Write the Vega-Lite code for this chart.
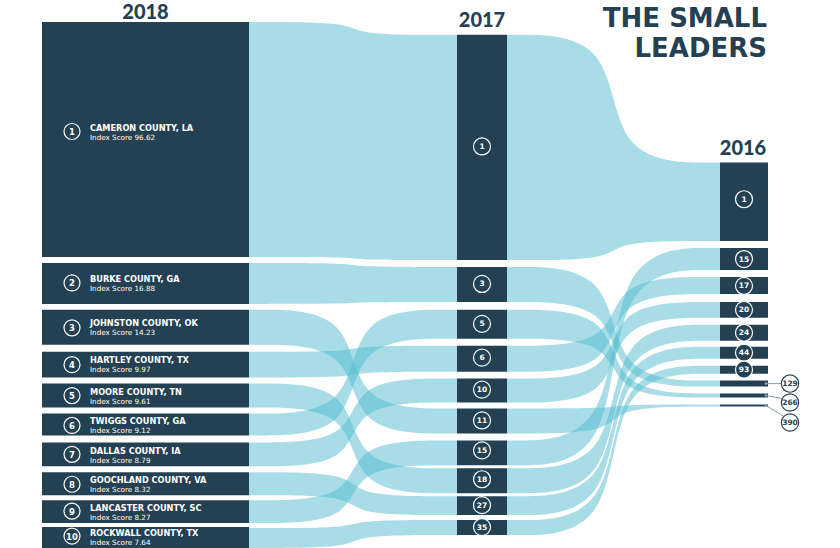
{
  "$schema": "https://vega.github.io/schema/vega-lite/v6.json",
  "width": 840,
  "height": 548,
  "autosize": {"type": "fit", "contains": "padding"},
  "padding": 0,
  "background": "white",
  "view": {"stroke": null},
  "config": {"font": "Lato"},
  "datasets": {
    "flows": [
      {"f":"a1","x":249,"t":22,"b":258},{"f":"a1","x":352.5,"t":22,"b":258},{"f":"a1","x":353.5,"t":35,"b":261},{"f":"a1","x":457,"t":35,"b":261},
      {"f":"a2","x":249,"t":264,"b":305},{"f":"a2","x":352.5,"t":264,"b":305},{"f":"a2","x":353.5,"t":268,"b":303},{"f":"a2","x":457,"t":268,"b":303},
      {"f":"a3","x":249,"t":311,"b":346},{"f":"a3","x":352.5,"t":311,"b":346},{"f":"a3","x":353.5,"t":410,"b":435},{"f":"a3","x":457,"t":410,"b":435},
      {"f":"a4","x":249,"t":353,"b":379},{"f":"a4","x":352.5,"t":353,"b":379},{"f":"a4","x":353.5,"t":347,"b":373},{"f":"a4","x":457,"t":347,"b":373},
      {"f":"a5","x":249,"t":385,"b":409},{"f":"a5","x":352.5,"t":385,"b":409},{"f":"a5","x":353.5,"t":470,"b":495},{"f":"a5","x":457,"t":470,"b":495},
      {"f":"a6","x":249,"t":415,"b":437},{"f":"a6","x":352.5,"t":415,"b":437},{"f":"a6","x":353.5,"t":311,"b":340},{"f":"a6","x":457,"t":311,"b":340},
      {"f":"a7","x":249,"t":444,"b":468},{"f":"a7","x":352.5,"t":444,"b":468},{"f":"a7","x":353.5,"t":380,"b":404},{"f":"a7","x":457,"t":380,"b":404},
      {"f":"a8","x":249,"t":474,"b":497},{"f":"a8","x":352.5,"t":474,"b":497},{"f":"a8","x":353.5,"t":498,"b":517},{"f":"a8","x":457,"t":498,"b":517},
      {"f":"a9","x":249,"t":502,"b":525},{"f":"a9","x":352.5,"t":502,"b":525},{"f":"a9","x":353.5,"t":442,"b":467},{"f":"a9","x":457,"t":442,"b":467},
      {"f":"a10","x":249,"t":530,"b":550},{"f":"a10","x":352.5,"t":530,"b":550},{"f":"a10","x":353.5,"t":522,"b":537},{"f":"a10","x":457,"t":522,"b":537},
      {"f":"b1","x":507,"t":35,"b":261},{"f":"b1","x":613,"t":35,"b":261},{"f":"b1","x":614,"t":163,"b":242},{"f":"b1","x":720,"t":163,"b":242},
      {"f":"b2","x":507,"t":268,"b":303},{"f":"b2","x":613,"t":268,"b":303},{"f":"b2","x":614,"t":382,"b":388},{"f":"b2","x":720,"t":382,"b":388},
      {"f":"b3","x":507,"t":311,"b":340},{"f":"b3","x":613,"t":311,"b":340},{"f":"b3","x":614,"t":395,"b":399},{"f":"b3","x":720,"t":395,"b":399},
      {"f":"b4","x":507,"t":347,"b":373},{"f":"b4","x":613,"t":347,"b":373},{"f":"b4","x":614,"t":278,"b":295},{"f":"b4","x":720,"t":278,"b":295},
      {"f":"b5","x":507,"t":380,"b":404},{"f":"b5","x":613,"t":380,"b":404},{"f":"b5","x":614,"t":303,"b":319},{"f":"b5","x":720,"t":303,"b":319},
      {"f":"b6","x":507,"t":410,"b":435},{"f":"b6","x":613,"t":410,"b":435},{"f":"b6","x":614,"t":406,"b":408},{"f":"b6","x":720,"t":406,"b":408},
      {"f":"b7","x":507,"t":442,"b":467},{"f":"b7","x":613,"t":442,"b":467},{"f":"b7","x":614,"t":249,"b":271},{"f":"b7","x":720,"t":249,"b":271},
      {"f":"b8","x":507,"t":470,"b":495},{"f":"b8","x":613,"t":470,"b":495},{"f":"b8","x":614,"t":326,"b":342},{"f":"b8","x":720,"t":326,"b":342},
      {"f":"b9","x":507,"t":498,"b":517},{"f":"b9","x":613,"t":498,"b":517},{"f":"b9","x":614,"t":348,"b":360},{"f":"b9","x":720,"t":348,"b":360},
      {"f":"b10","x":507,"t":522,"b":537},{"f":"b10","x":613,"t":522,"b":537},{"f":"b10","x":614,"t":367,"b":375},{"f":"b10","x":720,"t":367,"b":375}
    ],
    "bars": [
      {"year":"2018","rank":"1","x0":42,"x1":249,"t":22,"b":258},
      {"year":"2018","rank":"2","x0":42,"x1":249,"t":264,"b":305},
      {"year":"2018","rank":"3","x0":42,"x1":249,"t":311,"b":346},
      {"year":"2018","rank":"4","x0":42,"x1":249,"t":353,"b":379},
      {"year":"2018","rank":"5","x0":42,"x1":249,"t":385,"b":409},
      {"year":"2018","rank":"6","x0":42,"x1":249,"t":415,"b":437},
      {"year":"2018","rank":"7","x0":42,"x1":249,"t":444,"b":468},
      {"year":"2018","rank":"8","x0":42,"x1":249,"t":474,"b":497},
      {"year":"2018","rank":"9","x0":42,"x1":249,"t":502,"b":525},
      {"year":"2018","rank":"10","x0":42,"x1":249,"t":529,"b":550},
      {"year":"2017","rank":"1","x0":457,"x1":507,"t":35,"b":261},
      {"year":"2017","rank":"3","x0":457,"x1":507,"t":268,"b":303},
      {"year":"2017","rank":"5","x0":457,"x1":507,"t":311,"b":340},
      {"year":"2017","rank":"6","x0":457,"x1":507,"t":347,"b":373},
      {"year":"2017","rank":"10","x0":457,"x1":507,"t":380,"b":404},
      {"year":"2017","rank":"11","x0":457,"x1":507,"t":410,"b":435},
      {"year":"2017","rank":"15","x0":457,"x1":507,"t":442,"b":467},
      {"year":"2017","rank":"18","x0":457,"x1":507,"t":470,"b":495},
      {"year":"2017","rank":"27","x0":457,"x1":507,"t":498,"b":517},
      {"year":"2017","rank":"35","x0":457,"x1":507,"t":522,"b":537},
      {"year":"2016","rank":"1","x0":720,"x1":768,"t":163,"b":242},
      {"year":"2016","rank":"15","x0":720,"x1":768,"t":249,"b":271},
      {"year":"2016","rank":"17","x0":720,"x1":768,"t":278,"b":295},
      {"year":"2016","rank":"20","x0":720,"x1":768,"t":303,"b":319},
      {"year":"2016","rank":"24","x0":720,"x1":768,"t":326,"b":342},
      {"year":"2016","rank":"44","x0":720,"x1":768,"t":348,"b":360},
      {"year":"2016","rank":"93","x0":720,"x1":768,"t":367,"b":375},
      {"year":"2016","rank":"129","x0":720,"x1":768,"t":382,"b":388},
      {"year":"2016","rank":"266","x0":720,"x1":768,"t":395,"b":399},
      {"year":"2016","rank":"390","x0":720,"x1":768,"t":406,"b":408}
    ],
    "badges": [
      {"kind":"a","rank":"1","cx":72,"cy":132},
      {"kind":"a","rank":"2","cx":72,"cy":284},
      {"kind":"a","rank":"3","cx":72,"cy":329},
      {"kind":"a","rank":"4","cx":72,"cy":366},
      {"kind":"a","rank":"5","cx":72,"cy":397},
      {"kind":"a","rank":"6","cx":72,"cy":427},
      {"kind":"a","rank":"7","cx":72,"cy":456},
      {"kind":"a","rank":"8","cx":72,"cy":486},
      {"kind":"a","rank":"9","cx":72,"cy":513},
      {"kind":"a","rank":"10","cx":72,"cy":538},
      {"kind":"b","rank":"1","cx":482,"cy":147},
      {"kind":"b","rank":"3","cx":482,"cy":285},
      {"kind":"b","rank":"5","cx":482,"cy":325},
      {"kind":"b","rank":"6","cx":482,"cy":359},
      {"kind":"b","rank":"10","cx":482,"cy":391},
      {"kind":"b","rank":"11","cx":482,"cy":422},
      {"kind":"b","rank":"15","cx":482,"cy":452},
      {"kind":"b","rank":"18","cx":482,"cy":481},
      {"kind":"b","rank":"27","cx":482,"cy":507},
      {"kind":"b","rank":"35","cx":482,"cy":529},
      {"kind":"b","rank":"1","cx":744,"cy":200},
      {"kind":"b","rank":"15","cx":744,"cy":260},
      {"kind":"b","rank":"17","cx":744,"cy":287},
      {"kind":"b","rank":"20","cx":744,"cy":311},
      {"kind":"b","rank":"24","cx":744,"cy":334},
      {"kind":"b","rank":"44","cx":744,"cy":354},
      {"kind":"b","rank":"93","cx":744,"cy":371},
      {"kind":"c","rank":"129","cx":790,"cy":385},
      {"kind":"c","rank":"266","cx":790,"cy":404},
      {"kind":"c","rank":"390","cx":790,"cy":424}
    ],
    "leaders": [
      {"rank":"129","x0":766,"y0":385,"x1":781,"y1":385},
      {"rank":"266","x0":766,"y0":397,"x1":782,"y1":400},
      {"rank":"390","x0":766,"y0":407,"x1":784,"y1":418}
    ],
    "counties": [
      {"name":"CAMERON COUNTY, LA","score":"Index Score 96.62","x":90,"m":132},
      {"name":"BURKE COUNTY, GA","score":"Index Score 16.88","x":90,"m":284},
      {"name":"JOHNSTON COUNTY, OK","score":"Index Score 14.23","x":90,"m":328},
      {"name":"HARTLEY COUNTY, TX","score":"Index Score 9.97","x":90,"m":365},
      {"name":"MOORE COUNTY, TN","score":"Index Score 9.61","x":90,"m":397},
      {"name":"TWIGGS COUNTY, GA","score":"Index Score 9.12","x":90,"m":426},
      {"name":"DALLAS COUNTY, IA","score":"Index Score 8.79","x":90,"m":456},
      {"name":"GOOCHLAND COUNTY, VA","score":"Index Score 8.32","x":90,"m":485},
      {"name":"LANCASTER COUNTY, SC","score":"Index Score 8.27","x":90,"m":513},
      {"name":"ROCKWALL COUNTY, TX","score":"Index Score 7.64","x":90,"m":538}
    ],
    "years": [
      {"label":"2018","x":145.5,"y":3},
      {"label":"2017","x":482,"y":11},
      {"label":"2016","x":743,"y":140}
    ],
    "title": [
      {"label":"THE SMALL","x":767,"y":27},
      {"label":"LEADERS","x":767,"y":57}
    ]
  },
  "encoding": {
    "x": {"type":"quantitative","scale":{"domain":[0,840],"nice":false,"zero":false},"axis":null},
    "y": {"type":"quantitative","scale":{"domain":[0,548],"nice":false,"zero":false,"reverse":true},"axis":null}
  },
  "layer": [
    {
      "data": {"name":"flows"},
      "mark": {"type":"area","interpolate":"basis","color":"#52bccf","opacity":0.5},
      "encoding": {
        "x": {"field":"x","type":"quantitative"},
        "y": {"field":"t","type":"quantitative"},
        "y2": {"field":"b"},
        "detail": {"field":"f"}
      }
    },
    {
      "data": {"name":"bars"},
      "mark": {"type":"rect","color":"#234152"},
      "encoding": {
        "x": {"field":"x0","type":"quantitative"},
        "x2": {"field":"x1"},
        "y": {"field":"t","type":"quantitative"},
        "y2": {"field":"b"}
      }
    },
    {
      "data": {"name":"leaders"},
      "mark": {"type":"rule","color":"#8d9ea8","strokeWidth":1},
      "encoding": {
        "x": {"field":"x0","type":"quantitative"},
        "x2": {"field":"x1"},
        "y": {"field":"y0","type":"quantitative"},
        "y2": {"field":"y1"}
      }
    },
    {
      "data": {"name":"leaders"},
      "mark": {"type":"point","shape":"circle","filled":true,"color":"#8d9ea8","size":8,"opacity":1},
      "encoding": {
        "x": {"field":"x0","type":"quantitative"},
        "y": {"field":"y0","type":"quantitative"}
      }
    },
    {
      "data": {"name":"badges"},
      "transform": [{"filter":"datum.kind != 'c'"}],
      "mark": {"type":"point","shape":"circle","filled":false,"stroke":"white","strokeWidth":1.2,"fill":"#234152","fillOpacity":1,"opacity":1},
      "encoding": {
        "x": {"field":"cx","type":"quantitative"},
        "y": {"field":"cy","type":"quantitative"},
        "size": {"condition":{"test":"datum.kind == 'a'","value":256},"value":289}
      }
    },
    {
      "data": {"name":"badges"},
      "transform": [{"filter":"datum.kind == 'c'"}],
      "mark": {"type":"point","shape":"circle","filled":false,"stroke":"#234152","strokeWidth":1.2,"fill":"white","fillOpacity":1,"opacity":1,"size":300},
      "encoding": {
        "x": {"field":"cx","type":"quantitative"},
        "y": {"field":"cy","type":"quantitative"}
      }
    },
    {
      "data": {"name":"badges"},
      "mark": {"type":"text","align":"center","baseline":"middle","fontWeight":"bold","font":"DejaVu Sans","dy":0.5},
      "encoding": {
        "x": {"field":"cx","type":"quantitative"},
        "y": {"field":"cy","type":"quantitative"},
        "text": {"field":"rank"},
        "color": {"condition":{"test":"datum.kind == 'c'","value":"#234152"},"value":"white"},
        "size": {"condition":{"test":"datum.kind == 'a'","value":8.5},"value":7.5}
      }
    },
    {
      "data": {"name":"counties"},
      "mark": {"type":"text","align":"left","baseline":"alphabetic","font":"DejaVu Sans","fontWeight":"bold","fontSize":8.2,"color":"white","dy":-0.5},
      "encoding": {
        "x": {"field":"x","type":"quantitative"},
        "y": {"field":"m","type":"quantitative"},
        "text": {"field":"name"}
      }
    },
    {
      "data": {"name":"counties"},
      "mark": {"type":"text","align":"left","baseline":"alphabetic","font":"DejaVu Sans","fontWeight":"normal","fontSize":7.2,"color":"white","dy":8.5},
      "encoding": {
        "x": {"field":"x","type":"quantitative"},
        "y": {"field":"m","type":"quantitative"},
        "text": {"field":"score"}
      }
    },
    {
      "data": {"name":"years"},
      "mark": {"type":"text","align":"center","baseline":"top","fontWeight":900,"fontSize":20,"color":"#234152"},
      "encoding": {
        "x": {"field":"x","type":"quantitative"},
        "y": {"field":"y","type":"quantitative"},
        "text": {"field":"label"}
      }
    },
    {
      "data": {"name":"title"},
      "mark": {"type":"text","align":"right","baseline":"alphabetic","font":"DejaVu Sans","fontWeight":"bold","fontSize":26,"color":"#234152"},
      "encoding": {
        "x": {"field":"x","type":"quantitative"},
        "y": {"field":"y","type":"quantitative"},
        "text": {"field":"label"}
      }
    }
  ]
}
